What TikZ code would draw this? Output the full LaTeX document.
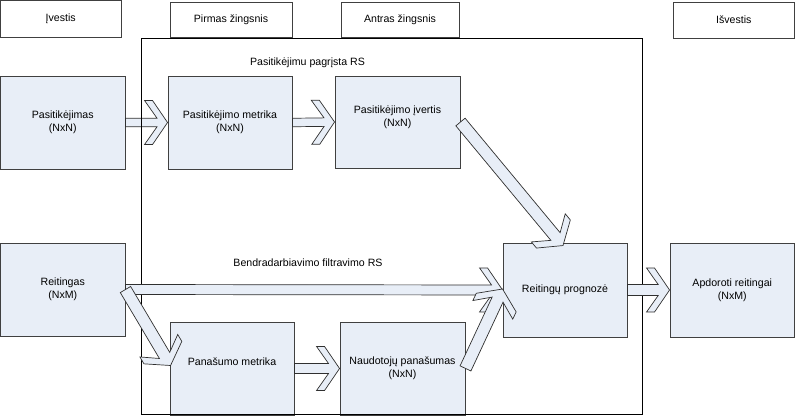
\documentclass[tikz,border=0pt]{standalone}
\usepackage{fontspec}
\setmainfont{Liberation Sans}
\usetikzlibrary{calc}
\definecolor{boxfill}{HTML}{E8EEF7}
\definecolor{boxline}{HTML}{404040}
\definecolor{arrline}{HTML}{303030}
\tikzset{
  base/.style={font=\fontsize{10.6}{13}\selectfont, align=center, inner sep=0pt},
  blk/.style={base, draw=boxline, fill=boxfill, line width=0.9pt},
  hdr/.style={base, draw=boxline, fill=white, line width=0.9pt},
  barr/.style={draw=arrline, fill=boxfill, line width=0.7pt, line join=miter},
  lbl/.style={base},
  frame/.style={draw=black, line width=0.9pt}
}
% block arrow: #1 half shaft width, #2 tail, #3 tip
\newcommand\barrow[3]{%
  \path let \p1=($(#3)-(#2)$) in \pgfextra{%
    \pgfmathsetmacro\bartmpa{atan2(\y1,\x1)}\xdef\barang{\bartmpa}%
    \pgfmathsetmacro\bartmpb{veclen(\x1,\y1)}\xdef\barlen{\bartmpb}};
  \begin{scope}[shift={(#3)}, rotate=\barang, x=1pt, y=1pt]
    \pgfmathsetmacro\baruj{7.5+15.5*#1/22}
    \draw[barr] (-\barlen,#1) -- (-\baruj,#1) -- (-23,22) -- (-15,22) -- (0,0)
      -- (-15,-22) -- (-23,-22) -- (-\baruj,-#1) -- (-\barlen,-#1) -- cycle;
  \end{scope}}
\begin{document}
\begin{tikzpicture}[x=1pt,y=-1pt]
\useasboundingbox (0,0) rectangle (795,416);
% header boxes
\node[hdr, minimum width=120.5pt, minimum height=36.5pt] (hin) at (60.75,18.75) {Įvestis};
\node[hdr, minimum width=122pt, minimum height=35pt] (h1) at (231,19.5) {Pirmas žingsnis};
\node[hdr, minimum width=118pt, minimum height=35pt] (h2) at (400,19.5) {Antras žingsnis};
\node[hdr, minimum width=121.5pt, minimum height=36pt] (hout) at (733.75,20) {Išvestis};
% blocks
\node[blk, minimum width=124.5pt, minimum height=93pt] (pas) at (62.75,122.5) {Pasitikėjimas\\(NxN)};
\node[blk, minimum width=124pt, minimum height=93pt] (pm) at (230,122.5) {Pasitikėjimo metrika\\(NxN)};
\node[blk, minimum width=125pt, minimum height=92pt, text depth=12pt] (pi) at (397.5,122) {Pasitikėjimo įvertis\\(NxN)};
\node[blk, minimum width=124.5pt, minimum height=93pt] (rei) at (62.75,289.5) {Reitingas\\(NxM)};
\node[blk, minimum width=124pt, minimum height=94pt] (prog) at (565,290) {Reitingų prognozė};
\node[blk, minimum width=124.5pt, minimum height=94pt] (apd) at (732.25,290) {Apdoroti reitingai\\(NxM)};
\node[blk, minimum width=124pt, minimum height=93pt, text height=9pt, text depth=16pt] (panm) at (232,368.5) {Panašumo metrika};
\node[blk, minimum width=125pt, minimum height=93pt] (nau) at (402.5,368.5) {Naudotojų panašumas\\(NxN)};
% first arrow (under the frame line)
\barrow{4.25}{pas.east}{pm.west}
% frame
\draw[frame] (141,38) rectangle (642.5,414.5);
% labels
\node[lbl] (lab1) at (307.5,63) {Pasitikėjimu pagrįsta RS};
\node[lbl] (lab2) at (308,263) {Bendradarbiavimo filtravimo RS};
% arrows
\coordinate (t3) at ($(prog.north)+(-2,3)$);
\coordinate (t5) at ($(panm.west)+(1,-3)$);
\coordinate (t7) at ($(prog.west)+(0,-1)$);
\barrow{4.25}{pm.east}{pi.west}
\barrow{6}{pi.east}{t3}
\barrow{5}{rei.east}{prog.west}
\barrow{6}{rei.east}{t5}
\barrow{5}{panm.east}{nau.west}
\barrow{6}{nau.east}{t7}
\barrow{5.5}{prog.east}{apd.west}
\end{tikzpicture}
\end{document}
